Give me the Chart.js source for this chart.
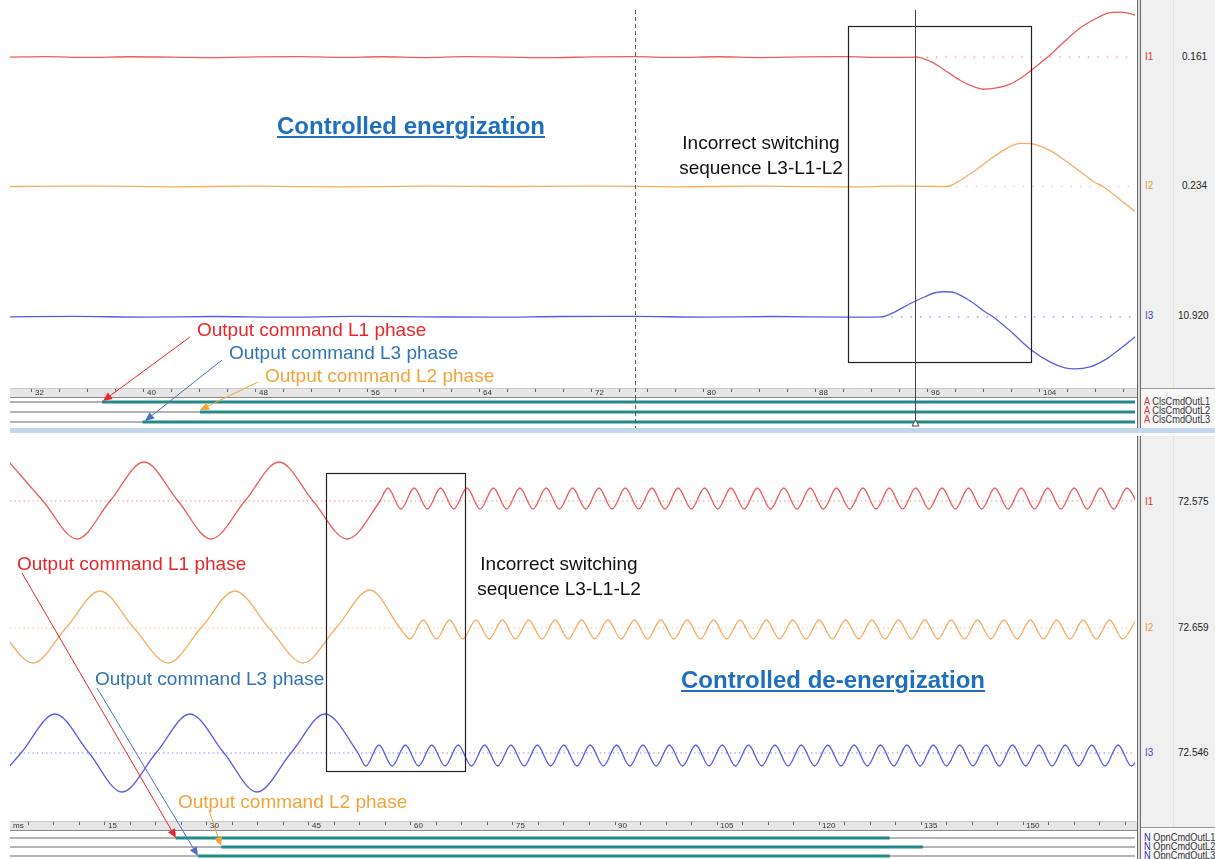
<!DOCTYPE html>
<html>
<head>
<meta charset="utf-8">
<title>Controlled energization / de-energization</title>
<script src="https://cdn.jsdelivr.net/npm/chart.js@4.4.1/dist/chart.umd.min.js"></script>
<style>
  html, body { margin:0; padding:0; background:#fff; }
  body { position:relative; width:1215px; height:859px; overflow:hidden; font-family:"Liberation Sans", Arial, sans-serif; }
  canvas { position:absolute; left:0; }
  .abs { position:absolute; }
  .note { position:absolute; white-space:nowrap; line-height:1; font-size:19px; z-index:5; }
  .title { position:absolute; white-space:nowrap; line-height:1; font-size:24px; font-weight:bold; color:#1f6fbf; text-decoration:underline; z-index:5; }
  .seq { position:absolute; width:220px; text-align:center; font-size:19px; line-height:25px; color:#111; z-index:5; }
  .lbl { position:absolute; font-size:10px; line-height:10px; white-space:nowrap; color:#222; }
  .dlbl { position:absolute; font-size:11px; line-height:10px; white-space:nowrap; color:#333; transform:scaleX(0.84); transform-origin:0 0; }
</style>
</head>
<body>
<canvas id="topAnalog" width="1137" height="398" style="top:0;width:1137px;height:398px"></canvas>
<canvas id="topDigital" width="1137" height="30" style="top:398px;width:1137px;height:30px"></canvas>
<canvas id="botAnalog" width="1137" height="395" style="top:436px;width:1137px;height:395px"></canvas>
<canvas id="botDigital" width="1137" height="28" style="top:831px;width:1137px;height:28px"></canvas>

<div class="abs" style="left:10px;top:428px;width:1205px;height:5px;background:#c3d6ec"></div>

<div class="title" style="left:277px;top:114px">Controlled energization</div>
<div class="title" style="left:681px;top:668px">Controlled de-energization</div>
<div class="seq" style="left:651px;top:130px">Incorrect switching<br>sequence L3-L1-L2</div>
<div class="seq" style="left:449px;top:551px">Incorrect switching<br>sequence L3-L1-L2</div>

<div class="note" style="left:197px;top:320px;color:#e8262b">Output command L1 phase</div>
<div class="note" style="left:229px;top:343px;color:#2f74b5">Output command L3 phase</div>
<div class="note" style="left:265px;top:366px;color:#f2a33a">Output command L2 phase</div>
<div class="note" style="left:17px;top:554px;color:#e8262b">Output command L1 phase</div>
<div class="note" style="left:95px;top:669px;color:#2f74b5">Output command L3 phase</div>
<div class="note" style="left:178px;top:792px;color:#f2a33a">Output command L2 phase</div>

<svg id="arrows" class="abs" width="1215" height="859" style="left:0;top:0;z-index:6"></svg>

<script>
// time axes (ms)
const topRange = [30.43, 110.79];
const botRange = [1.03, 166.47];
const topTickLabels = [32, 40, 48, 56, 64, 72, 80, 88, 96, 104];
const botTickLabels = [15, 30, 45, 60, 75, 90, 105, 120, 135, 150];
const topMinorStep = 2;
const botMinorStep = 3.75;

const analogNames = ['I1', 'I2', 'I3'];
const topCursorValues = ['0.161', '0.234', '10.920'];
const botCursorValues = ['72.575', '72.659', '72.546'];
const topDigitalNames = ['ClsCmdOutL1', 'ClsCmdOutL2', 'ClsCmdOutL3'];
const botDigitalNames = ['OpnCmdOutL1', 'OpnCmdOutL2', 'OpnCmdOutL3'];

// output command on/off times (ms)
const topCmdStart = [37.0, 44.0, 39.9];
const topCmdEnd = [110.79, 110.79, 110.79];
const botCmdStart = [25.4, 32.1, 28.7];
const botCmdEnd = [130.4, 135.3, 130.4];

// energization: time the current leaves zero (ms)
const topDepart = [95.2, 97.36, 92.71];
const topDashedAt = 75.07;
const topCursorAt = 95.07;
const topBox = [90.29, 103.36];
const botBox = [47.5, 67.94];

// [ms, value]
const topI1 = [[30.4,0],[33,0.5],[36,-0.3],[39,0.4],[42,0],[45,-0.5],[48,0.3],[51,0.6],[54,-0.2],[57,0.4],[60,-0.4],[63,0.5],[66,0],[69,-0.5],[72,0.3],[75,0.5],[78,-0.3],[81,0.4],[84,-0.4],[87,0.2],[90,0.5],[93,-0.3],
  [95.21,0],[96.14,-4],[97.21,-13],[98.29,-23],[99.36,-30],[99.93,-32],[100.79,-31],[101.86,-27],[102.93,-18],[104.0,-6],[104.71,2],[105.79,16],[106.86,29],[107.93,38],[108.86,44],[109.57,45],[110.29,44],[110.79,42]];
const topI2 = [[30.4,0],[36,0.4],[42,-0.3],[48,0.3],[54,-0.4],[60,0.3],[66,0],[72,0.4],[78,-0.3],[84,0.3],[90,-0.4],[94,0.3],
  [97.36,0],[98.29,6],[99.36,16],[100.43,27],[101.5,37],[102.21,42],[102.79,43],[103.64,42],[104.71,36],[105.79,26],[106.86,15],[107.93,4],[108.5,0],[109.36,-9],[110.07,-17],[110.79,-25]];
const topI3 = [[30.4,0],[35,0.4],[40,-0.3],[45,0.3],[50,-0.4],[55,0.4],[60,0],[65,-0.4],[70,0.3],[75,0.4],[80,-0.3],[85,0.3],[90,-0.3],
  [92.71,0],[93.64,5],[94.71,13],[95.79,20],[96.5,24],[97.21,25],[97.93,24],[99.0,16],[100.07,5],[100.64,0],[101.86,-14],[103.29,-32],[104.71,-45],[105.79,-51],[106.5,-52],[107.57,-50],[108.64,-43],[109.71,-32],[110.79,-20]];

const botI1 = [[0.9,39],[5.88,0],[10.88,-38],[15.74,0],[20.74,39],[25.74,0],[30.59,-38],[35.59,0],[40.59,39],[45.59,0],[50.59,-38],[55.44,0],
  [56.59,13],[58.53,-8],[60.47,13],[62.41,-8],[64.35,13],[66.29,-8],[68.23,13],[70.17,-8],[72.12,13],[74.06,-8],[76.0,13],[77.94,-8],[79.88,13],[81.82,-8],[83.76,13],[85.7,-8],[87.64,13],[89.58,-8],[91.52,13],[93.47,-8],[95.41,13],[97.35,-8],[99.29,13],[101.23,-8],[103.17,13],[105.11,-8],[107.05,13],[108.99,-8],[110.93,13],[112.88,-8],[114.82,13],[116.76,-8],[118.7,13],[120.64,-8],[122.58,13],[124.52,-8],[126.46,13],[128.4,-8],[130.34,13],[132.29,-8],[134.23,13],[136.17,-8],[138.11,13],[140.05,-8],[141.99,13],[143.93,-8],[145.87,13],[147.81,-8],[149.75,13],[151.69,-8],[153.64,13],[155.58,-8],[157.52,13],[159.46,-8],[161.4,13],[163.34,-8],[165.28,13],[167.22,-8]];
const botI2 = [[-5.6,37],[-0.6,0],[4.41,-35],[9.26,0],[14.26,37],[19.26,0],[24.26,-35],[29.12,0],[34.12,37],[39.12,0],[44.12,-35],[48.97,0],[53.97,38],[58.38,0],
  [59.85,-11],[61.79,8],[63.73,-11],[65.67,8],[67.61,-11],[69.55,8],[71.49,-11],[73.44,8],[75.38,-11],[77.32,8],[79.26,-11],[81.2,8],[83.14,-11],[85.08,8],[87.02,-11],[88.96,8],[90.9,-11],[92.85,8],[94.79,-11],[96.73,8],[98.67,-11],[100.61,8],[102.55,-11],[104.49,8],[106.43,-11],[108.37,8],[110.32,-11],[112.26,8],[114.2,-11],[116.14,8],[118.08,-11],[120.02,8],[121.96,-11],[123.9,8],[125.84,-11],[127.78,8],[129.72,-11],[131.67,8],[133.61,-11],[135.55,8],[137.49,-11],[139.43,8],[141.37,-11],[143.31,8],[145.25,-11],[147.19,8],[149.13,-11],[151.08,8],[153.02,-11],[154.96,8],[156.9,-11],[158.84,8],[160.78,-11],[162.72,8],[164.66,-11],[166.6,8]];
const botI3 = [[-2.35,-39],[2.65,0],[7.65,39],[12.65,0],[17.5,-39],[22.5,0],[27.5,39],[32.5,0],[37.35,-39],[42.35,0],[47.35,39],[52.21,0],
  [53.35,-13],[55.29,8],[57.23,-13],[59.17,8],[61.11,-13],[63.05,8],[65.0,-13],[66.94,8],[68.88,-13],[70.82,8],[72.76,-13],[74.7,8],[76.64,-13],[78.58,8],[80.52,-13],[82.47,8],[84.41,-13],[86.35,8],[88.29,-13],[90.23,8],[92.17,-13],[94.11,8],[96.05,-13],[97.99,8],[99.93,-13],[101.88,8],[103.82,-13],[105.76,8],[107.7,-13],[109.64,8],[111.58,-13],[113.52,8],[115.46,-13],[117.4,8],[119.34,-13],[121.29,8],[123.23,-13],[125.17,8],[127.11,-13],[129.05,8],[130.99,-13],[132.93,8],[134.87,-13],[136.81,8],[138.75,-13],[140.7,8],[142.64,-13],[144.58,8],[146.52,-13],[148.46,8],[150.4,-13],[152.34,8],[154.28,-13],[156.22,8],[158.16,-13],[160.11,8],[162.05,-13],[163.99,8],[165.93,-13],[167.87,8]];

const traceColors = ['#ef5b5b', '#f6ad62', '#5b5be6'];
const dotColors = ['#f29090', '#f7c68f', '#9090ea'];
const nameColors = ['#e83030', '#f09a3a', '#4646d6'];

const pts = arr => arr.map(p => ({x: p[0], y: p[1]}));

function timeAxis(range, labels, step, height) {
    return {
        type: 'linear', min: range[0], max: range[1],
        afterBuildTicks: (s) => {
            const t = [];
            for (let v = step; v <= range[1]; v += step) {
                if (v >= range[0]) t.push({value: v});
            }
            s.ticks = t;
        },
        afterFit: (s) => { s.height = height; },
        ticks: {
            autoSkip: false, maxRotation: 0, minRotation: 0, align: 'start', labelOffset: 3, padding: -4,
            color: '#333', font: {size: 8, family: 'Liberation Sans'},
            callback: (v) => labels.includes(v) ? String(v) : ''
        },
        grid: {drawOnChartArea: false, drawTicks: true, tickLength: 4, color: '#666'},
        border: {display: true, color: '#c8c8c8'}
    };
}

function decor(opts) {
    return {
        id: 'decor',
        beforeDraw(chart) {
            if (!opts.band) return;
            const {ctx, chartArea: a} = chart;
            const x = chart.scales.x;
            ctx.save();
            ctx.fillStyle = '#e6e6e6';
            ctx.fillRect(a.left, x.top, chart.width - a.left, x.height);
            ctx.fillStyle = '#8a8a8a';
            ctx.fillRect(a.left, x.bottom - 1, chart.width - a.left, 1);
            ctx.restore();
        },
        afterDraw(chart) {
            const {ctx} = chart;
            const x = chart.scales.x;
            ctx.save();
            if (opts.ms) {
                ctx.fillStyle = '#333';
                ctx.font = '8px "Liberation Sans"';
                ctx.textBaseline = 'top';
                ctx.fillText('ms', chart.chartArea.left + 3, x.top + 1);
            }
            if (opts.box) {
                const x1 = Math.round(x.getPixelForValue(opts.box[0])) + 0.5;
                const x2 = Math.round(x.getPixelForValue(opts.box[1])) + 0.5;
                ctx.strokeStyle = '#222';
                ctx.lineWidth = 1.2;
                ctx.strokeRect(x1, opts.boxY[0] + 0.5, x2 - x1, opts.boxY[1] - opts.boxY[0]);
            }
            if (opts.dashed !== undefined) {
                const px = Math.round(x.getPixelForValue(opts.dashed)) + 0.5;
                ctx.strokeStyle = '#555';
                ctx.lineWidth = 1;
                ctx.setLineDash([4, 3]);
                ctx.beginPath();
                ctx.moveTo(px, opts.lineTop);
                ctx.lineTo(px, chart.height);
                ctx.stroke();
                ctx.setLineDash([]);
            }
            if (opts.cursor !== undefined) {
                const px = Math.round(x.getPixelForValue(opts.cursor)) + 0.5;
                const end = opts.triangle ? opts.triangle : chart.height;
                ctx.strokeStyle = '#444';
                ctx.lineWidth = 1;
                ctx.beginPath();
                ctx.moveTo(px, opts.lineTop);
                ctx.lineTo(px, end);
                ctx.stroke();
                if (opts.triangle) {
                    ctx.fillStyle = '#fff';
                    ctx.beginPath();
                    ctx.moveTo(px, end);
                    ctx.lineTo(px - 3.5, end + 6);
                    ctx.lineTo(px + 3.5, end + 6);
                    ctx.closePath();
                    ctx.fill();
                    ctx.stroke();
                }
            }
            ctx.restore();
        }
    };
}

function analogChart(id, range, traces, baselines, dotStart, labels, step, plotH, extra) {
    const datasets = [];
    const scales = {x: timeAxis(range, labels, step, 10)};
    traces.forEach((tr, i) => {
        const yid = 'y' + i;
        scales[yid] = {type: 'linear', display: false, min: baselines[i] - plotH, max: baselines[i]};
        datasets.push({
            data: pts(tr), yAxisID: yid, borderColor: traceColors[i], borderWidth: 1.3,
            pointRadius: 0, fill: false, cubicInterpolationMode: 'monotone', order: 0
        });
        datasets.push({
            data: [{x: dotStart[i], y: 0}, {x: range[1], y: 0}], yAxisID: yid,
            borderColor: dotColors[i], borderWidth: 1.2, borderDash: extra.dash, pointRadius: 0, order: 1
        });
    });
    return new Chart(document.getElementById(id), {
        type: 'line',
        data: {datasets},
        options: {
            responsive: false, animation: false, events: [],
            layout: {padding: {left: 10, right: 2, top: 0, bottom: 0}},
            plugins: {legend: {display: false}, tooltip: {enabled: false}},
            scales
        },
        plugins: [decor(extra)]
    });
}

function digitalChart(id, range, starts, ends, yMin, yMax, extra) {
    const datasets = [];
    starts.forEach((s, i) => {
        datasets.push({data: [{x: range[0], y: i + 1}, {x: range[1], y: i + 1}], borderColor: '#6a6a6a', borderWidth: 1, pointRadius: 0, order: 2});
        datasets.push({data: [{x: s, y: i + 1}, {x: ends[i], y: i + 1}], borderColor: '#23898a', borderWidth: 3, pointRadius: 0, order: 0});
    });
    return new Chart(document.getElementById(id), {
        type: 'line',
        data: {datasets},
        options: {
            responsive: false, animation: false, events: [],
            layout: {padding: {left: 10, right: 2, top: 0, bottom: 0}},
            plugins: {legend: {display: false}, tooltip: {enabled: false}},
            scales: {
                x: {type: 'linear', display: false, min: range[0], max: range[1]},
                y: {type: 'linear', display: false, reverse: true, min: yMin, max: yMax}
            }
        },
        plugins: [decor(extra)]
    });
}

analogChart('topAnalog', topRange, [topI1, topI2, topI3], [57, 186, 316], topDepart, topTickLabels, topMinorStep, 387,
    {band: true, box: topBox, boxY: [26, 362], dashed: topDashedAt, cursor: topCursorAt, lineTop: 10, dash: [1.5, 8]});
digitalChart('topDigital', topRange, topCmdStart, topCmdEnd, 0.6, 3.6,
    {dashed: topDashedAt, cursor: topCursorAt, lineTop: 0, triangle: 22});
analogChart('botAnalog', botRange, [botI1, botI2, botI3], [65, 192, 317], [botRange[0], botRange[0], botRange[0]], botTickLabels, botMinorStep, 385,
    {band: true, box: botBox, boxY: [37, 335], ms: true, dash: [1.5, 3]});
digitalChart('botDigital', botRange, botCmdStart, botCmdEnd, 1 - 7 / 9, 1 - 7 / 9 + 28 / 9, {});

// side panels with channel names and cursor values
function sidePanel(top, height, sepY, analogY, values, digitalY, digitalNames, prefix, prefixColor) {
    const add = (cls, css) => {
        const d = document.createElement('div');
        d.className = cls;
        d.style.cssText = css;
        document.body.appendChild(d);
        return d;
    };
    add('abs', `left:1141px;top:${top}px;width:74px;height:${height}px;background:#f0f0f0`);
    add('abs', `left:1141px;top:${sepY}px;width:74px;height:${top + height - sepY}px;background:#f7f7f7`);
    add('abs', `left:1173px;top:${top}px;width:1px;height:${sepY - top}px;background:#e2e2e2`);
    add('abs', `left:1137px;top:${top}px;width:1px;height:${height}px;background:#6a6a6a`);
    add('abs', `left:1138px;top:${top}px;width:2px;height:${height}px;background:#dcdcdc`);
    add('abs', `left:1140px;top:${top}px;width:1px;height:${height}px;background:#6a6a6a`);
    add('abs', `left:1141px;top:${sepY}px;width:74px;height:1px;background:#9a9a9a`);
    analogNames.forEach((n, i) => {
        const a = add('lbl', `left:1145px;top:${analogY[i] - 5}px;color:${nameColors[i]}`);
        a.textContent = n;
        const v = add('lbl', `left:${values[i].length > 5 ? 1178 : 1182}px;top:${analogY[i] - 5}px`);
        v.textContent = values[i];
    });
    digitalNames.forEach((n, i) => {
        const d = add('dlbl', `left:1144px;top:${digitalY[i] - 5}px`);
        d.innerHTML = `<span style="color:${prefixColor}">${prefix}</span> ${n}`;
    });
}
sidePanel(0, 428, 388, [57, 186, 316], topCursorValues, [401, 410, 419], topDigitalNames, 'A', '#e83030');
sidePanel(436, 423, 827, [502, 628, 753], botCursorValues, [837, 846, 855], botDigitalNames, 'N', '#3030b0');

// annotation arrows
const arrows = [
    [190, 337, 103, 401, '#e8262b'], [222, 360, 145, 421, '#4a70c0'], [258, 382, 200, 410, '#f2a33a'],
    [22, 573, 176, 838, '#e8262b'], [97, 688, 198, 856, '#4a70c0'], [209, 810, 221, 846, '#f2a33a']
];
const svg = document.getElementById('arrows');
const ns = 'http://www.w3.org/2000/svg';
arrows.forEach((a) => {
    const [x1, y1, x2, y2, c] = a;
    const ang = Math.atan2(y2 - y1, x2 - x1);
    const len = 9, half = 4;
    const bx = x2 - len * Math.cos(ang), by = y2 - len * Math.sin(ang);
    const line = document.createElementNS(ns, 'line');
    line.setAttribute('x1', x1); line.setAttribute('y1', y1);
    line.setAttribute('x2', bx); line.setAttribute('y2', by);
    line.setAttribute('stroke', c); line.setAttribute('stroke-width', '1');
    svg.appendChild(line);
    const head = document.createElementNS(ns, 'polygon');
    const px = -Math.sin(ang) * half, py = Math.cos(ang) * half;
    head.setAttribute('points', `${x2},${y2} ${bx + px},${by + py} ${bx - px},${by - py}`);
    head.setAttribute('fill', c);
    svg.appendChild(head);
});
</script>
</body>
</html>
